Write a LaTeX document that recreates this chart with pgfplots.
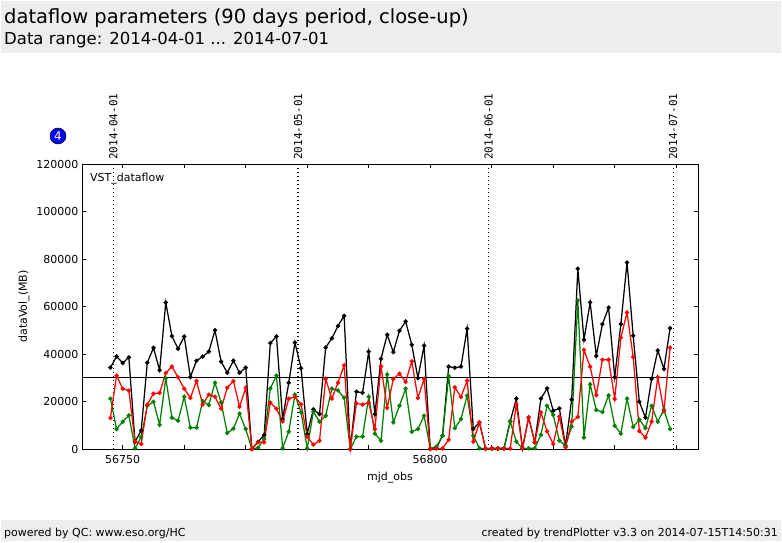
\documentclass[border=0pt]{standalone}
\usepackage{pgfplots}
\pgfplotsset{compat=1.18}
\usepackage{fontspec}
\setmainfont{DejaVu Sans}
\setmonofont{DejaVu Sans Mono}
\definecolor{band}{RGB}{237,237,237}
\definecolor{grn}{RGB}{0,128,0}
\newcommand{\fs}[1]{\fontsize{#1}{#1}\selectfont}

\begin{document}
\begin{tikzpicture}[x=1pt,y=1pt]
    % page frame and the grey header and footer bands
    \path (0,0) rectangle (782,542);
    \fill[band] (1,489) rectangle (781,541);
    \fill[band] (1,1) rectangle (781,22);
    \node[anchor=base west,inner sep=0pt,font=\fs{19.5}] at (4,518) {dataflow parameters (90 days period, close-up)};
    \node[anchor=base west,inner sep=0pt,font=\fs{16.5}] at (4,497) {Data range: 2014-04-01 ... 2014-07-01};
    \node[anchor=base west,inner sep=0pt,font=\fs{11}] at (4,6) {powered by QC: www.eso.org/HC};
    \node[anchor=base east,inner sep=0pt,font=\fs{11}] at (778,6) {created by trendPlotter v3.3 on 2014-07-15T14:50:31};
    \node[circle,fill=blue,draw=black,line width=0.5pt,minimum size=16pt,inner sep=0pt,text=white,font=\fs{12}] at (58,406) {4};

    \begin{axis}[
        at={(82pt,93pt)},
        anchor=south west,
        scale only axis,
        width=616pt,
        height=285pt,
        xmin=56743.38, xmax=56843.54,
        ymin=0, ymax=120000,
        xtick={56750,56760,56770,56780,56790,56800,56810,56820,56830,56840},
        xticklabels={56750,,,,,56800,,,,},
        ytick={0,20000,40000,60000,80000,100000,120000},
        scaled ticks=false,
        /pgf/number format/.cd,fixed,precision=0,1000 sep={},assume math mode=true,
        /pgfplots/.cd,
        tick align=inside,
        tick pos=both,
        major tick length=4pt,
        tick style={black,line width=0.6pt},
        axis line style={line width=1pt},
        tick label style={font=\fs{11}},
        xticklabel style={yshift=-2.5pt},
        label style={font=\fs{11}},
        xlabel={mjd\_obs},
        ylabel={dataVol\_(MB)},
        xlabel style={at={(axis description cs:0.5,0)},anchor=base,yshift=-31pt},
        ylabel style={at={(axis description cs:0,0.5)},anchor=base,yshift=55pt},
        clip=false,
        every axis plot/.append style={line width=1.25pt,mark=*,mark size=1.5pt},
    ]
        % threshold and month markers
        \addplot[black,line width=1.2pt,no markers] coordinates {(56743.38,30000) (56843.54,30000)};
        \addplot[black,line width=1.1pt,dash pattern=on 1pt off 3pt,no markers] coordinates {(56748.5,0) (56748.5,120000)};
        \addplot[black,line width=1.1pt,dash pattern=on 1pt off 3pt,no markers] coordinates {(56778.5,0) (56778.5,120000)};
        \addplot[black,line width=1.1pt,dash pattern=on 1pt off 3pt,no markers] coordinates {(56809.5,0) (56809.5,120000)};
        \addplot[black,line width=1.1pt,dash pattern=on 1pt off 3pt,no markers] coordinates {(56839.5,0) (56839.5,120000)};

        % black series
        \addplot[black,mark options={fill=black}] coordinates {
            (56748,34250) (56749,39000) (56750,36200) (56751,38600) (56752,3000)
            (56753,7700) (56754,36300) (56755,42600) (56756,33200) (56757,61700)
            (56758,47500) (56759,42200) (56760,47400) (56761,30300) (56762,37200)
            (56763,38900) (56764,41000) (56765,50000) (56766,36800) (56767,32100)
            (56768,37200) (56769,32100) (56770,34250) (56771,0) (56772,3000)
            (56773,5900) (56774,44600) (56775,47400) (56776,12600) (56777,27900)
            (56778,44800) (56779,34000) (56780,6300) (56781,16700) (56782,14700)
            (56783,42700) (56784,46600) (56785,51800) (56786,56100) (56787,0)
            (56788,24100) (56789,23700) (56790,41000) (56791,14700) (56792,38000)
            (56793,48100) (56794,40800) (56795,49800) (56796,53700) (56797,43900)
            (56798,29900) (56799,43500) (56800,0) (56801,400) (56802,5600)
            (56803,34700) (56804,34200) (56805,34700) (56806,50700) (56807,8400)
            (56808,11200) (56809,200) (56810,300) (56811,300) (56812,300)
            (56813,11600) (56814,21200) (56815,300) (56816,13300) (56817,2800)
            (56818,21200) (56819,25500) (56820,16100) (56821,17100) (56822,1400)
            (56823,20800) (56824,75900) (56825,46000) (56826,61700) (56827,39200)
            (56828,52600) (56829,59500) (56830,30200) (56831,52600) (56832,78500)
            (56833,47700) (56834,19900) (56835,13200) (56836,29500) (56837,41500)
            (56838,33700) (56839,50900)
        };
        % green series
        \addplot[grn,mark options={fill=grn}] coordinates {
            (56748,21200) (56749,8400) (56750,11500) (56751,14200) (56752,300)
            (56753,5000) (56754,18200) (56755,19900) (56756,10200) (56757,29800)
            (56758,13200) (56759,11900) (56760,22000) (56761,9000) (56762,9000)
            (56763,20200) (56764,18500) (56765,27900) (56766,19600) (56767,6700)
            (56768,8600) (56769,14900) (56770,8400) (56771,0) (56772,500)
            (56773,4200) (56774,25500) (56775,30900) (56776,400) (56777,7300)
            (56778,22900) (56779,15400) (56780,300) (56781,15700) (56782,11500)
            (56783,14000) (56784,25400) (56785,24600) (56786,21600) (56787,0)
            (56788,5200) (56789,5200) (56790,22000) (56791,6500) (56792,3500)
            (56793,31300) (56794,11200) (56795,18200) (56796,25400) (56797,7300)
            (56798,8400) (56799,14000) (56800,300) (56801,1000) (56802,5600)
            (56803,30700) (56804,8800) (56805,12600) (56806,22500) (56807,5600)
            (56808,300) (56809,0) (56810,0) (56811,0) (56812,200)
            (56813,11600) (56814,3100) (56815,200) (56816,300) (56817,300)
            (56818,6000) (56819,18200) (56820,14300) (56821,3500) (56822,1400)
            (56823,9400) (56824,62600) (56825,4800) (56826,27200) (56827,16400)
            (56828,15600) (56829,22600) (56830,9800) (56831,6500) (56832,21200)
            (56833,9300) (56834,12400) (56835,8800) (56836,18200) (56837,11500)
            (56838,16600) (56839,8400)
        };
        % red series
        \addplot[red,mark options={fill=red}] coordinates {
            (56748,13050) (56749,30900) (56750,25400) (56751,24600) (56752,3100)
            (56753,2100) (56754,18700) (56755,23300) (56756,23600) (56757,32000)
            (56758,34700) (56759,30200) (56760,25400) (56761,21500) (56762,28600)
            (56763,18700) (56764,22900) (56765,22000) (56766,17000) (56767,25800)
            (56768,28600) (56769,17800) (56770,25800) (56771,0) (56772,2800)
            (56773,2800) (56774,19500) (56775,17000) (56776,11600) (56777,21200)
            (56778,21900) (56779,18800) (56780,5200) (56781,1800) (56782,3500)
            (56783,29500) (56784,21200) (56785,27900) (56786,35200) (56787,0)
            (56788,19200) (56789,18700) (56790,19500) (56791,8400) (56792,34800)
            (56793,17300) (56794,29500) (56795,31700) (56796,28300) (56797,36900)
            (56798,21500) (56799,29500) (56800,0) (56801,200) (56802,200)
            (56803,3900) (56804,26000) (56805,21900) (56806,28800) (56807,3100)
            (56808,11200) (56809,200) (56810,200) (56811,200) (56812,200)
            (56813,200) (56814,18900) (56815,200) (56816,13300) (56817,2800)
            (56818,15400) (56819,7400) (56820,2100) (56821,13600) (56822,700)
            (56823,11600) (56824,13500) (56825,41700) (56826,34700) (56827,22700)
            (56828,37600) (56829,37600) (56830,21100) (56831,46900) (56832,57500)
            (56833,38700) (56834,7600) (56835,4800) (56836,11500) (56837,30200)
            (56838,16000) (56839,42700)
        };

        \node[anchor=base west,inner sep=0pt,font=\fs{11}] at (rel axis cs:0.013,0.94) {VST\_dataflow};
        \node[rotate=90,anchor=west,inner sep=0pt,xshift=-1.5pt,font=\ttfamily\fs{11}] at (axis cs:56748.5,122300) {2014-04-01};
        \node[rotate=90,anchor=west,inner sep=0pt,xshift=-1.5pt,font=\ttfamily\fs{11}] at (axis cs:56778.5,122300) {2014-05-01};
        \node[rotate=90,anchor=west,inner sep=0pt,xshift=-1.5pt,font=\ttfamily\fs{11}] at (axis cs:56809.5,122300) {2014-06-01};
        \node[rotate=90,anchor=west,inner sep=0pt,xshift=-1.5pt,font=\ttfamily\fs{11}] at (axis cs:56839.5,122300) {2014-07-01};
    \end{axis}
\end{tikzpicture}
\end{document}
